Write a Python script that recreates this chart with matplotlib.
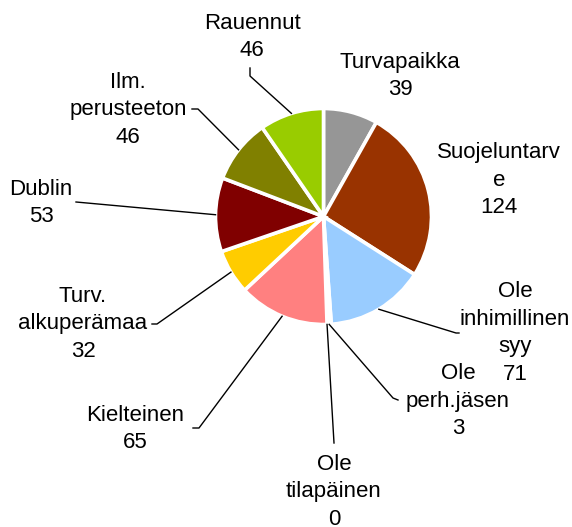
"""Pie chart of asylum decisions by category (Finnish labels)."""

import numpy as np
import matplotlib

matplotlib.use("Agg")
import matplotlib.pyplot as plt

W, H = 572, 527

categories = [
    "Turvapaikka",
    "Suojeluntarv\ne",
    "Ole\ninhimillinen\nsyy",
    "Ole\nperh.jäsen",
    "Ole\ntilapäinen",
    "Kielteinen",
    "Turv.\nalkuperämaa",
    "Dublin",
    "Ilm.\nperusteeton",
    "Rauennut",
]
values = [39, 124, 71, 3, 0, 65, 32, 53, 46, 46]
colors = [
    "#969696", "#993300", "#99CCFF", "#FFFFFF", "#FFFFFF",
    "#FF8080", "#FFCC00", "#800000", "#808000", "#99CC00",
]

# label block centres and leader elbows, in pixel coords (y down)
label_pos = [
    (400, 76), (499, 180), (515, 333), (458, 401), (334, 492),
    (135, 429), (83, 324), (41, 203), (128, 110), (252, 37),
]
leader_path = [
    None,
    None,
    [(456, 333), (459, 333)],
    [(393, 398), (398, 400)],
    [(334, 443)],
    [(199, 428), (193, 428)],
    [(157, 324), (152, 324)],
    [(76, 202)],
    [(198, 109), (192, 109)],
    [(250, 76), (250, 68)],
]

CX, CY, R = 323.5, 216.5, 108


def y(py):
    return H - py


plt.rcParams["font.family"] = ["Liberation Sans", "DejaVu Sans"]

fig = plt.figure(figsize=(W / 100, H / 100), dpi=100)
ax = fig.add_axes([0, 0, 1, 1])

wedges, _ = ax.pie(
    values,
    colors=colors,
    startangle=90,
    counterclock=False,
    center=(CX, y(CY)),
    radius=R,
    wedgeprops=dict(edgecolor="white", linewidth=2.6),
)
ax.set_xlim(0, W)
ax.set_ylim(0, H)
ax.set_aspect("equal")
ax.axis("off")

total = sum(values)
cum = 0
for cat, val, pos, path in zip(categories, values, label_pos, leader_path):
    mid = (cum + val / 2) / total * 360
    cum += val
    ang = np.deg2rad(90 - mid)
    if path:
        xs = [CX + R * np.cos(ang)] + [p[0] for p in path]
        ys = [y(CY) + R * np.sin(ang)] + [y(p[1]) for p in path]
        ax.plot(xs, ys, color="black", linewidth=1.0)
    ax.text(pos[0], y(pos[1]), f"{cat}\n{val}", ha="center", va="center",
            fontsize=16, linespacing=1.42, color="black")

fig.savefig("out.png", dpi=100)
